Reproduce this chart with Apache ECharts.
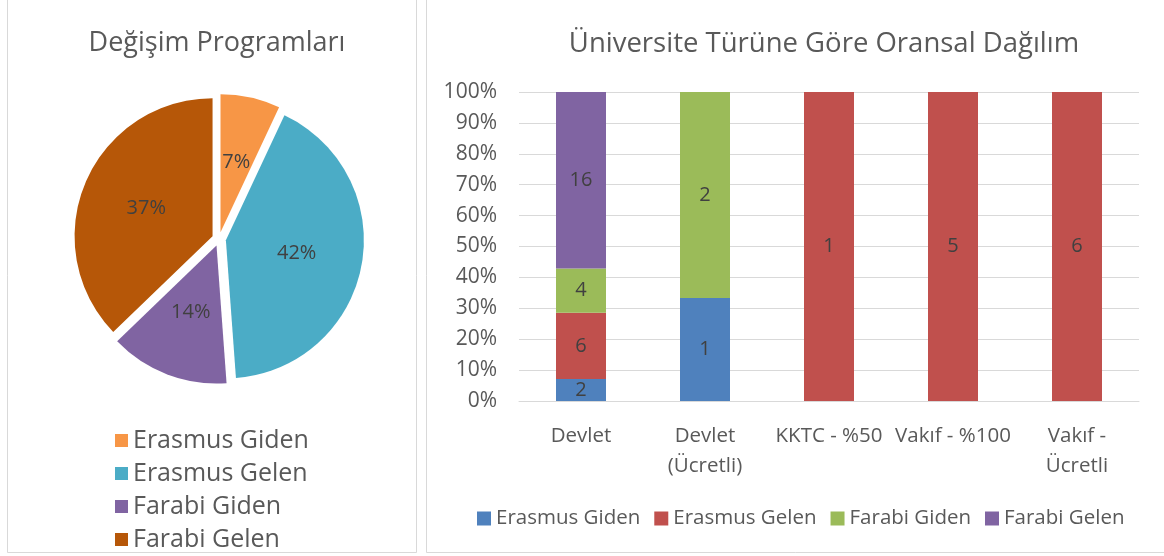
<!DOCTYPE html>
<html>
<head>
<meta charset="utf-8">
<script src="https://cdn.jsdelivr.net/npm/echarts@6/dist/echarts.min.js"></script>
<style>
  html, body { margin: 0; padding: 0; background: #fff; }
  #main { width: 1164px; height: 556px; }
</style>
</head>
<body>
<div id="main"></div>
<script>
// pie: Değişim Programları
var pieNames = ['Erasmus Giden', 'Erasmus Gelen', 'Farabi Giden', 'Farabi Gelen'];
var pieValues = [3, 18, 6, 16];
var pieColors = ['#F79646', '#4BACC6', '#8064A2', '#B65708'];

// stacked bar: Üniversite Türüne Göre Oransal Dağılım
var categories = ['Devlet', 'Devlet\n(Ücretli)', 'KKTC - %50', 'Vakıf - %100', 'Vakıf -\nÜcretli'];
var seriesNames = ['Erasmus Giden', 'Erasmus Gelen', 'Farabi Giden', 'Farabi Gelen'];
var erasmusGiden = [2, 1, 0, 0, 0];
var erasmusGelen = [6, 0, 1, 5, 6];
var farabiGiden = [4, 2, 0, 0, 0];
var farabiGelen = [16, 0, 0, 0, 0];
var barColors = ['#4F81BD', '#C0504D', '#9BBB59', '#8064A2'];

var FONT = '"Open Sans", sans-serif';
var TXT = '#595959';
var LBL = '#404040';

var counts = [erasmusGiden, erasmusGelen, farabiGiden, farabiGelen];

// toplam / kategori
var totals = categories.map(function (c, i) {
    var s = 0;
    counts.forEach(function (arr) { s += arr[i]; });
    return s;
});

var barSeries = counts.map(function (arr, k) {
    return {
        name: seriesNames[k],
        type: 'bar',
        stack: 'total',
        barWidth: 50,
        itemStyle: { color: barColors[k] },
        label: {
            show: true,
            position: 'inside',
            color: LBL,
            fontFamily: FONT,
            fontSize: 20,
            formatter: function (p) {
                var v = arr[p.dataIndex];
                return v ? String(v) : '';
            }
        },
        emphasis: { disabled: true },
        data: arr.map(function (v, i) { return totals[i] ? v / totals[i] * 100 : 0; })
    };
});

var pieData = pieNames.map(function (n, i) {
    return { name: n, value: pieValues[i], selected: true, itemStyle: { color: pieColors[i] } };
});

// pie legend keeps pie colours (names are shared with the bar series)
var pieLegendData = pieNames.map(function (n, i) {
    return { name: n, itemStyle: { color: pieColors[i] } };
});

var option = {
    animation: false,
    backgroundColor: '#FFFFFF',
    graphic: [
        { type: 'rect', shape: { x: 7.5, y: -2, width: 409, height: 554.5 }, style: { fill: 'none', stroke: '#D9D9D9', lineWidth: 1 } },
        { type: 'rect', shape: { x: 426.5, y: -2, width: 745, height: 554.5 }, style: { fill: 'none', stroke: '#D9D9D9', lineWidth: 1 } }
    ],
    title: [
        { text: 'Değişim Programları', left: 212, top: 25, textAlign: 'center',
          textStyle: { fontFamily: FONT, fontSize: 27, fontWeight: 'normal', color: TXT } },
        { text: 'Üniversite Türüne Göre Oransal Dağılım', left: 819, top: 25, textAlign: 'center',
          textStyle: { fontFamily: FONT, fontSize: 27.5, fontWeight: 'normal', color: TXT } }
    ],
    legend: [
        {
            data: pieLegendData,
            orient: 'vertical',
            left: 115,
            top: 428,
            height: 128,
            padding: 0,
            itemWidth: 13,
            itemHeight: 13,
            itemGap: 8,
            icon: 'rect',
            selectedMode: false,
            textStyle: { fontFamily: FONT, fontSize: 25, color: TXT, lineHeight: 24 }
        },
        {
            data: seriesNames,
            left: 472,
            top: 503,
            itemWidth: 14,
            itemHeight: 14,
            itemGap: 14,
            icon: 'rect',
            selectedMode: false,
            textStyle: { fontFamily: FONT, fontSize: 20.5, color: TXT }
        }
    ],
    grid: { left: 519, right: 25, top: 92, bottom: 155 },
    xAxis: {
        type: 'category',
        data: categories,
        axisLine: { lineStyle: { color: '#D9D9D9' } },
        axisTick: { show: false },
        axisLabel: { color: TXT, fontFamily: FONT, fontSize: 20.5, margin: 20, lineHeight: 30, interval: 0 }
    },
    yAxis: {
        type: 'value',
        min: 0,
        max: 100,
        interval: 10,
        axisLine: { show: false },
        axisTick: { show: false },
        splitLine: { lineStyle: { color: '#D9D9D9' } },
        axisLabel: { color: TXT, fontFamily: FONT, fontSize: 21, margin: 22, formatter: '{value}%' }
    },
    series: barSeries.concat([
        {
            name: 'Değişim Programları',
            type: 'pie',
            center: [219, 239],
            radius: 138,
            startAngle: 90,
            clockwise: true,
            selectedMode: 'multiple',
            selectedOffset: 7,
            percentPrecision: 0,
            emphasis: { disabled: true },
            label: {
                show: true,
                position: 'inside',
                color: LBL,
                fontFamily: FONT,
                fontSize: 20,
                formatter: '{d}%'
            },
            labelLine: { show: false },
            data: pieData
        }
    ])
};

var myChart = echarts.init(document.getElementById('main'));
myChart.setOption(option);
</script>
</body>
</html>
